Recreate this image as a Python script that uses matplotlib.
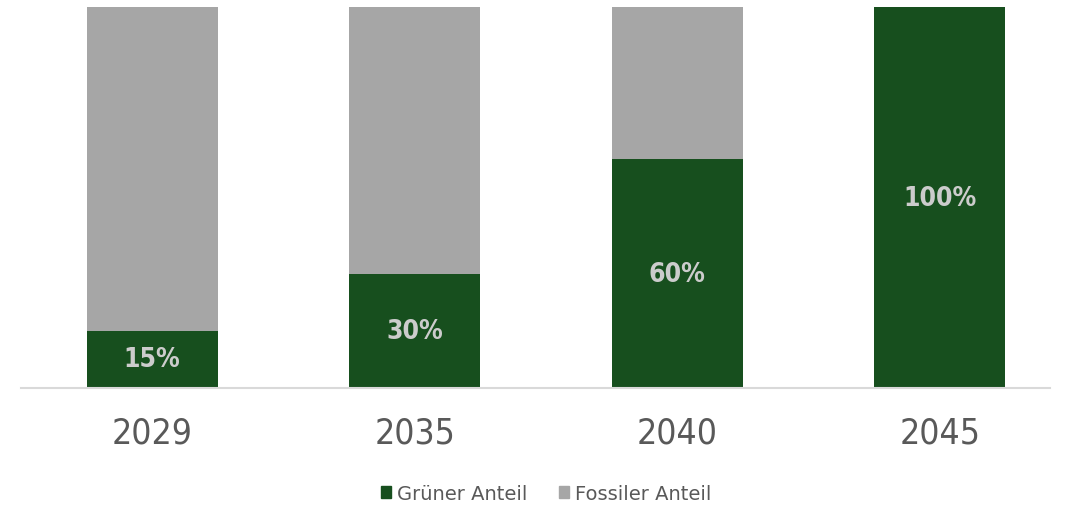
import matplotlib.pyplot as plt
from matplotlib.patches import Patch

years = ['2029', '2035', '2040', '2045']
gruen = [15, 30, 60, 100]
fossil = [85, 70, 40, 0]

green_c = '#174f1e'
gray_c = '#a6a6a6'
text_c = '#595959'
plt.rcParams['font.family'] = ['DejaVu Sans']

fig = plt.figure(figsize=(10.71, 5.06), dpi=100)
ax = fig.add_axes([21 / 1071, 1 - 389 / 506, 1029 / 1071, 381 / 506])

x = range(len(years))
ax.bar(x, gruen, width=0.5, color=green_c, label='Grüner Anteil')
ax.bar(x, fossil, width=0.5, bottom=gruen, color=gray_c, label='Fossiler Anteil')

# Prozentwerte mittig im grünen Segment
for i, v in enumerate(gruen):
    ax.text(i, v / 2, f'{v}%', ha='center', va='center', fontsize=19,
            color='#cccccc', fontstretch='condensed', fontweight='semibold')

ax.set_xlim(-0.5, 3.42)
ax.set_ylim(0, 100)
ax.set_xticks(list(x))
ax.set_xticklabels(years, fontsize=25.5, color=text_c, fontstretch='condensed')
ax.tick_params(axis='x', length=0, pad=20)
ax.set_yticks([])
for s in ['top', 'left', 'right']:
    ax.spines[s].set_visible(False)
ax.spines['bottom'].set_color('#d9d9d9')
ax.spines['bottom'].set_linewidth(1.5)

handles = [Patch(color=green_c, label='Grüner Anteil'),
           Patch(color=gray_c, label='Fossiler Anteil')]
fig.legend(handles=handles, loc='center', bbox_to_anchor=(0.51, 0.023),
           ncol=2, frameon=False, fontsize=14, labelcolor=text_c,
           handlelength=0.55, handleheight=0.55, handletextpad=0.3,
           columnspacing=1.6)

fig.savefig('out.png', dpi=100)
